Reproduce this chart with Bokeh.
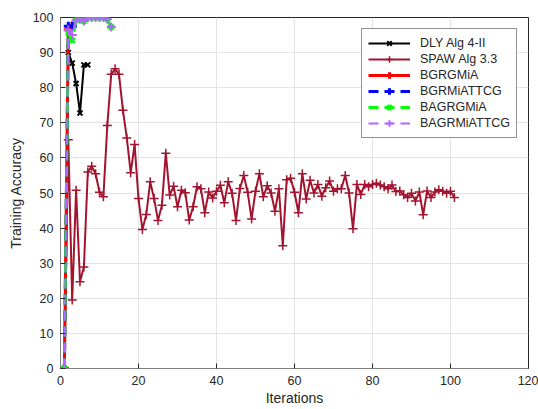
from bokeh.plotting import figure
from bokeh.models import Range1d, Legend, LegendItem, FixedTicker
from bokeh.embed import file_html
from bokeh.resources import INLINE

# ---------------- data ----------------
dly_x = [1, 2, 3, 4, 5, 6, 7]
dly_y = [0, 90, 87, 81.2, 72.8, 86.5, 86.5]

spaw_y = [0, 65.2, 19.5, 50.8, 24.7, 28.9, 56, 57.6, 55.5, 50.2,
          48.9, 69.2, 83.8, 85.4, 83.8, 73.6, 65.7, 55.8, 63.8, 48.4,
          39.6, 43.9, 53.2, 48.4, 42.2, 46.5, 61.3, 49.4, 51.9, 46.1,
          50.8, 50.1, 42.3, 46.1, 51.8, 51.2, 44.4, 50.3, 48.6, 50.5,
          52.2, 47.2, 53.2, 49.9, 42.2, 51.3, 55, 50.2, 42.6, 50.5,
          55.5, 48.9, 52.1, 50, 44.8, 51.2, 35, 53.8, 54.2, 50.2,
          44.4, 55.5, 48.3, 53.6, 50, 52.4, 49.1, 51.5, 53.4, 50.5,
          51.2, 51.2, 55, 50, 39.8, 52.4, 49.6, 52.4, 51.8, 52.4,
          52.8, 52.3, 51.8, 51.2, 52.3, 50.4, 50.6, 49.5, 48.7, 49.9,
          47.7, 50.3, 43.8, 50.6, 48.7, 50.3, 50.9, 50.5, 49.9, 50.5,
          48.7]
spaw_x = list(range(1, len(spaw_y) + 1))

bgrgmia_x = [1, 2, 3]
bgrgmia_y = [0, 96.5, 97.5]

bgrmiattcg_x = [1, 2, 3]
bgrmiattcg_y = [0, 97.5, 97.5]

bagrgmia_x = list(range(1, 14))
bagrgmia_y = [0, 95.5, 93.5, 99.3, 99.5, 99.0, 100, 100, 100, 100, 100, 99.5, 97.3]

bagrmiattcg_x = list(range(1, 14))
bagrmiattcg_y = [0, 96.5, 95.0, 99.3, 99.5, 99.0, 100, 100, 100, 100, 100, 99.5, 97.3]

x_ticks = [0, 20, 40, 60, 80, 100, 120]
y_ticks = [0, 10, 20, 30, 40, 50, 60, 70, 80, 90, 100]

# ---------------- figure ----------------
FONT = "Liberation Sans"
TXT = "#262626"

p = figure(width=538, height=409, output_backend="svg", toolbar_location=None,
           x_range=Range1d(0, 120), y_range=Range1d(0, 100))
p.min_border_left = 60
p.min_border_right = 10
p.min_border_top = 17
p.min_border_bottom = 41
p.background_fill_color = "white"
p.border_fill_color = "white"
p.outline_line_color = "#262626"
p.outline_line_width = 1

for ax in (p.xaxis, p.yaxis):
    ax.axis_line_color = "#808080"
    ax.major_tick_line_color = "#262626"
    ax.minor_tick_line_color = None
    ax.major_tick_in = 5
    ax.major_tick_out = 0
    ax.major_label_text_font = FONT
    ax.major_label_text_font_size = "12.5px"
    ax.major_label_text_color = TXT
    ax.axis_label_text_font = FONT
    ax.axis_label_text_font_size = "14px"
    ax.axis_label_text_font_style = "normal"
    ax.axis_label_text_color = TXT

p.xaxis.ticker = FixedTicker(ticks=x_ticks)
p.yaxis.ticker = FixedTicker(ticks=y_ticks)
p.xaxis.axis_label = "Iterations"
p.yaxis.axis_label = "Training Accuracy"
p.xaxis.major_label_standoff = 7
p.yaxis.major_label_standoff = 7
p.xaxis.axis_label_standoff = 2
p.yaxis.axis_label_standoff = 6

p.xgrid.grid_line_color = "#e3e3e3"
p.ygrid.grid_line_color = "#e3e3e3"
p.xgrid.grid_line_width = 1
p.ygrid.grid_line_width = 1

# ---------------- series ----------------
items = []

r1 = p.line(dly_x, dly_y, line_color="black", line_width=2)
m1 = p.scatter(dly_x, dly_y, marker="x", size=7, line_color="black", line_width=2)
items.append(LegendItem(label="DLY Alg 4-II", renderers=[r1, m1]))

SP = "#A2142F"
r2 = p.line(spaw_x, spaw_y, line_color=SP, line_width=2)
m2 = p.scatter(spaw_x, spaw_y, marker="cross", size=9, line_color=SP, line_width=1.5)
items.append(LegendItem(label="SPAW Alg 3.3", renderers=[r2, m2]))

r3 = p.line(bgrgmia_x, bgrgmia_y, line_color="#FF0000", line_width=3)
m3 = p.scatter(bgrgmia_x, bgrgmia_y, marker="cross", size=9, line_color="#FF0000", line_width=3)
items.append(LegendItem(label="BGRGMiA", renderers=[r3, m3]))

r4 = p.line(bgrmiattcg_x, bgrmiattcg_y, line_color="#0000FF", line_width=3, line_dash="10 6")
m4 = p.scatter(bgrmiattcg_x, bgrmiattcg_y, marker="cross", size=9, line_color="#0000FF", line_width=3)
items.append(LegendItem(label="BGRMiATTCG", renderers=[r4, m4]))

r5 = p.line(bagrgmia_x, bagrgmia_y, line_color="#00FF00", line_width=3, line_dash="10 6")
m5 = p.scatter(bagrgmia_x, bagrgmia_y, marker="x", size=7, line_color="#00FF00", line_width=3)
items.append(LegendItem(label="BAGRGMiA", renderers=[r5, m5]))

PU = "#B266FF"
r6 = p.line(bagrmiattcg_x, bagrmiattcg_y, line_color=PU, line_width=2, line_dash="10 6")
m6 = p.scatter(bagrmiattcg_x, bagrmiattcg_y, marker="cross", size=9, line_color=PU, line_width=2)
items.append(LegendItem(label="BAGRMiATTCG", renderers=[r6, m6]))

legend = Legend(items=items, location=(301, 230))
legend.label_text_font = FONT
legend.label_text_font_size = "12.5px"
legend.label_text_color = TXT
legend.glyph_width = 42
legend.glyph_height = 16
legend.label_height = 16
legend.label_standoff = 10
legend.spacing = 0
legend.padding = 6
legend.margin = 0
legend.border_line_color = "#262626"
legend.border_line_width = 1
legend.background_fill_color = "white"
legend.background_fill_alpha = 1
p.add_layout(legend, "center")

open("out.html", "w").write(file_html(p, INLINE))
